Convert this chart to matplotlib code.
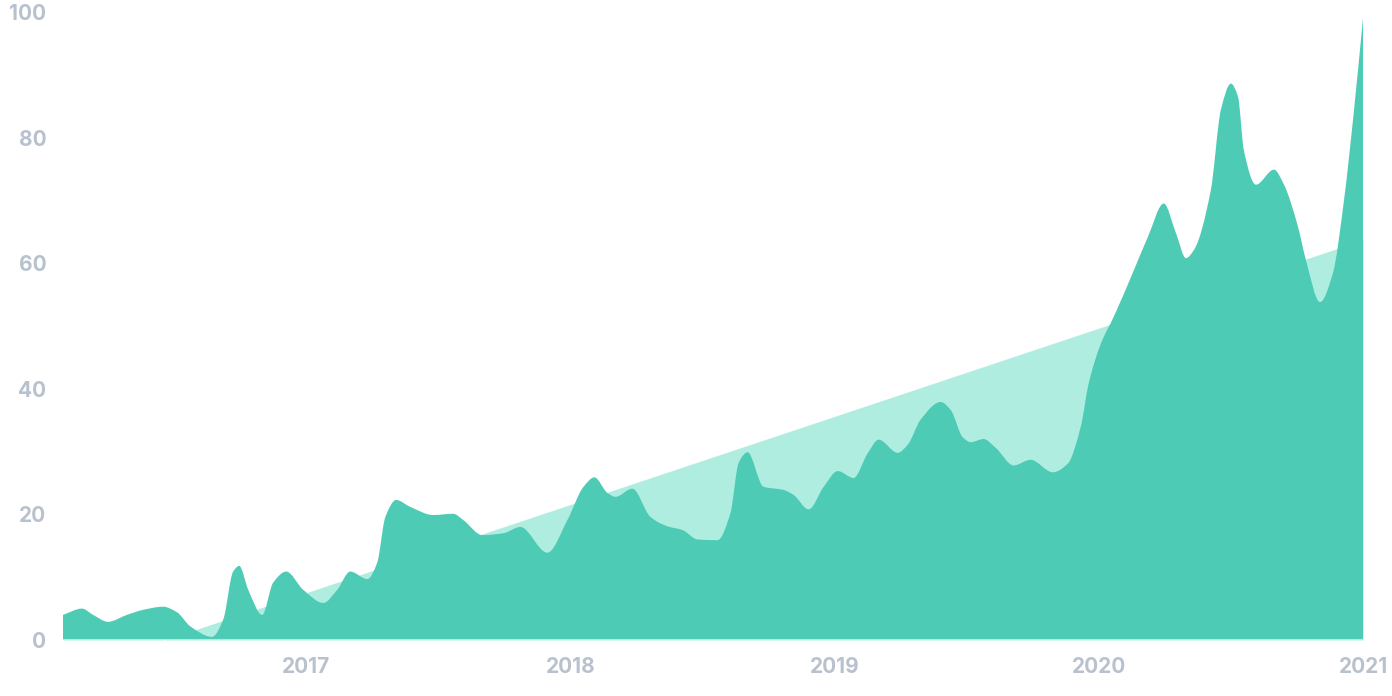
import numpy as np
import matplotlib
matplotlib.use("Agg")
import matplotlib.pyplot as plt
from matplotlib.path import Path
from matplotlib.patches import PathPatch

# values (decimal year, index value)
dates = [2016.08, 2016.152, 2016.194, 2016.25, 2016.322, 2016.383, 2016.459, 2016.512,
         2016.561, 2016.644, 2016.686, 2016.724, 2016.747, 2016.781, 2016.834, 2016.875,
         2016.925, 2016.989, 2017.065, 2017.118, 2017.167, 2017.232, 2017.269, 2017.30,
         2017.341, 2017.394, 2017.481, 2017.557, 2017.595, 2017.667, 2017.747, 2017.811,
         2017.913, 2017.989, 2018.05, 2018.091, 2018.141, 2018.171, 2018.235, 2018.303,
         2018.368, 2018.425, 2018.482, 2018.557, 2018.606, 2018.637, 2018.671, 2018.731,
         2018.807, 2018.845, 2018.902, 2018.959, 2019.012, 2019.072, 2019.125, 2019.167,
         2019.239, 2019.277, 2019.326, 2019.402, 2019.44, 2019.485, 2019.515, 2019.564,
         2019.61, 2019.678, 2019.742, 2019.826, 2019.883, 2019.932, 2019.962, 2020.008,
         2020.057, 2020.133, 2020.186, 2020.246, 2020.292, 2020.33, 2020.36, 2020.424,
         2020.462, 2020.50, 2020.527, 2020.549, 2020.595, 2020.663, 2020.701, 2020.754,
         2020.784, 2020.837, 2020.886, 2020.928, 2020.966, 2021.0]
values = [4.0, 5.0, 4.0, 2.9, 4.0, 4.8, 5.3, 4.4,
          2.2, 0.5, 3.2, 10.9, 11.8, 8.0, 4.0, 9.1,
          10.9, 8.0, 5.9, 8.0, 10.9, 9.7, 12.3, 19.6,
          22.3, 21.2, 19.9, 20.1, 19.1, 16.7, 17.0, 18.0,
          13.9, 19.1, 24.4, 25.9, 23.4, 22.8, 24.1, 19.6,
          18.1, 17.5, 16.0, 15.9, 20.2, 28.2, 29.9, 24.4,
          23.9, 23.1, 20.8, 24.4, 26.9, 25.8, 29.7, 31.9,
          29.8, 31.1, 35.1, 37.9, 36.6, 32.3, 31.5, 32.0,
          30.6, 27.8, 28.7, 26.7, 28.1, 34.0, 40.9, 47.2,
          51.5, 58.9, 64.2, 69.5, 64.8, 60.8, 62.1, 71.6,
          84.4, 88.6, 86.5, 78.0, 72.5, 74.9, 72.5, 65.8,
          60.5, 53.8, 58.4, 70.0, 84.4, 99.0]

trend_dates = [2016.08, 2021.0]
trend_values = [-5.4, 63.7]

year_ticks = [2017, 2018, 2019, 2020, 2021]
value_ticks = [0, 20, 40, 60, 80, 100]

DARK = "#4ecbb5"
LIGHT = "#afede0"
TEXT = "#b8c2ce"


def smooth_area(x, y):
    # monotone cubic bezier through the points, closed down to zero
    x = np.asarray(x, float)
    y = np.asarray(y, float)
    h = np.diff(x)
    d = np.diff(y) / h
    m = np.zeros_like(y)
    m[0], m[-1] = d[0], d[-1]
    for i in range(1, len(y) - 1):
        if d[i - 1] * d[i] <= 0:
            m[i] = 0
        else:
            w1 = 2 * h[i] + h[i - 1]
            w2 = h[i] + 2 * h[i - 1]
            m[i] = (w1 + w2) / (w1 / d[i - 1] + w2 / d[i])
    verts = [(x[0], 0), (x[0], y[0])]
    codes = [Path.MOVETO, Path.LINETO]
    for i in range(len(x) - 1):
        verts += [(x[i] + h[i] / 3, y[i] + m[i] * h[i] / 3),
                  (x[i + 1] - h[i] / 3, y[i + 1] - m[i + 1] * h[i] / 3),
                  (x[i + 1], y[i + 1])]
        codes += [Path.CURVE4] * 3
    verts += [(x[-1], 0), (x[0], 0)]
    codes += [Path.LINETO, Path.CLOSEPOLY]
    return Path(verts, codes)


fig = plt.figure(figsize=(13.92, 6.96), dpi=100)
ax = fig.add_axes([63 / 1392, 56 / 696, 1300 / 1392, 628 / 696])

ax.fill_between(trend_dates, 0, trend_values, color=LIGHT, lw=0)
ax.add_patch(PathPatch(smooth_area(dates, values), facecolor=DARK, edgecolor="none"))
ax.axhline(0, color=LIGHT, lw=1.5, zorder=3)

ax.set_xlim(2016.08, 2021.0)
ax.set_ylim(0, 100)
ax.set_xticks(year_ticks)
ax.set_yticks(value_ticks)
ax.set_xticklabels([str(t) for t in year_ticks])
ax.set_yticklabels([str(t) for t in value_ticks])
for s in ax.spines.values():
    s.set_visible(False)
ax.tick_params(length=0, colors=TEXT, labelsize=15)
ax.tick_params(axis="y", pad=12)
ax.tick_params(axis="x", pad=12)
for lab in ax.get_xticklabels() + ax.get_yticklabels():
    lab.set_fontfamily("Inter")
    lab.set_fontweight("bold")
    lab.set_color(TEXT)

fig.savefig("out.png", dpi=100)
